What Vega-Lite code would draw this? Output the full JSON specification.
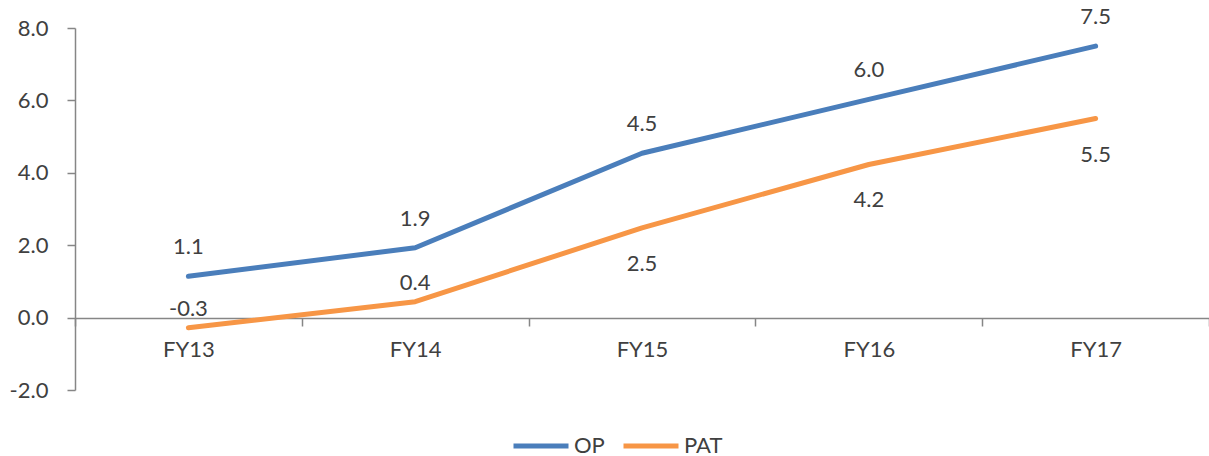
{
  "$schema": "https://vega.github.io/schema/vega-lite/v6.json",
  "width": 1134,
  "height": 362,
  "autosize": {"type": "none"},
  "padding": {"left": 75, "top": 28, "right": 0, "bottom": 66},
  "background": "white",
  "config": {
    "view": {"stroke": null},
    "font": "Lato",
    "locale": {
      "number": {"decimal": ".", "thousands": ",", "grouping": [3], "currency": ["$", ""], "minus": "-"}
    },
    "axis": {
      "labelFont": "Lato",
      "labelFontSize": 22,
      "labelColor": "#404040",
      "domainColor": "#868686",
      "tickColor": "#868686",
      "domainWidth": 1.5,
      "tickWidth": 1.5,
      "grid": false,
      "title": null
    }
  },
  "data": {
    "values": [
      {"year": "FY13", "series": "OP", "value": 1.14},
      {"year": "FY14", "series": "OP", "value": 1.93},
      {"year": "FY15", "series": "OP", "value": 4.54},
      {"year": "FY16", "series": "OP", "value": 6.03},
      {"year": "FY17", "series": "OP", "value": 7.5},
      {"year": "FY13", "series": "PAT", "value": -0.28},
      {"year": "FY14", "series": "PAT", "value": 0.44},
      {"year": "FY15", "series": "PAT", "value": 2.48},
      {"year": "FY16", "series": "PAT", "value": 4.23},
      {"year": "FY17", "series": "PAT", "value": 5.5}
    ]
  },
  "encoding": {
    "x": {
      "field": "year",
      "type": "ordinal",
      "bandPosition": 0.5,
      "scale": {"type": "band", "paddingInner": 0, "paddingOuter": 0},
      "axis": {
        "offset": -72,
        "labelAngle": 0,
        "tickBand": "extent",
        "tickSize": 8,
        "labelPadding": 13,
        "title": null
      }
    },
    "y": {
      "field": "value",
      "type": "quantitative",
      "scale": {"domain": [-2, 8], "nice": false, "zero": false},
      "axis": {
        "values": [-2, 0, 2, 4, 6, 8],
        "format": ".1f",
        "tickSize": 8,
        "labelPadding": 19,
        "title": null
      }
    }
  },
  "layer": [
    {
      "mark": {"type": "line", "strokeWidth": 5, "strokeCap": "round", "strokeJoin": "round"},
      "encoding": {
        "color": {
          "field": "series",
          "type": "nominal",
          "scale": {"domain": ["OP", "PAT"], "range": ["#4A7EBB", "#F79646"]},
          "legend": {
            "title": null,
            "orient": "none",
            "direction": "horizontal",
            "legendX": 436,
            "legendY": 388,
            "symbolType": "stroke",
            "symbolSize": 3025,
            "symbolStrokeWidth": 5,
            "labelFontSize": 22,
            "labelFont": "Lato",
            "labelColor": "#404040",
            "labelOffset": 3,
            "columnPadding": 8
          }
        }
      }
    },
    {
      "transform": [{"filter": "datum.series === 'OP'"}],
      "mark": {"type": "text", "dy": -29, "fontSize": 22, "font": "Lato", "color": "#404040", "baseline": "middle"},
      "encoding": {"text": {"field": "value", "type": "quantitative", "format": ".1f"}}
    },
    {
      "transform": [{"filter": "datum.series === 'PAT' && (datum.year === 'FY13' || datum.year === 'FY14')"}],
      "mark": {"type": "text", "dy": -19, "fontSize": 22, "font": "Lato", "color": "#404040", "baseline": "middle"},
      "encoding": {"text": {"field": "value", "type": "quantitative", "format": ".1f"}}
    },
    {
      "transform": [{"filter": "datum.series === 'PAT' && datum.year !== 'FY13' && datum.year !== 'FY14'"}],
      "mark": {"type": "text", "dy": 36, "fontSize": 22, "font": "Lato", "color": "#404040", "baseline": "middle"},
      "encoding": {"text": {"field": "value", "type": "quantitative", "format": ".1f"}}
    }
  ]
}
